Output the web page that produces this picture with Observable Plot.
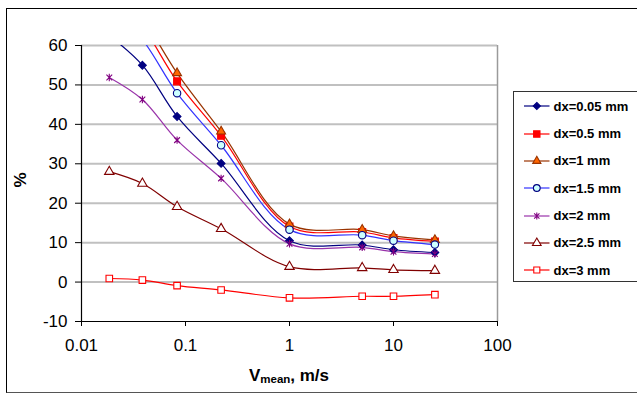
<!DOCTYPE html>
<html><head><meta charset="utf-8">
<script src="https://cdn.jsdelivr.net/npm/d3@7"></script>
<script src="https://cdn.jsdelivr.net/npm/@observablehq/plot@0.6"></script>
<style>
body{margin:0;background:#fff;font-family:"Liberation Sans",Arial,sans-serif;}
#wrap{position:relative;width:637px;height:395px;overflow:hidden;background:#fff;}
#chart{position:absolute;left:0;top:0;}
#frame{position:absolute;left:6px;top:8px;width:700px;height:385px;border:1.5px solid #000;border-bottom-color:#555;box-sizing:border-box;pointer-events:none;}
#legend{position:absolute;left:512.5px;top:91px;width:200px;height:191px;border:1px solid #333;box-sizing:border-box;background:#fff;}
.row{position:absolute;left:0;height:20px;display:flex;align-items:center;}
.row svg{display:block;}
.row span{font-weight:bold;font-size:13px;color:#000;margin-left:0px;white-space:nowrap;}
#xlabel{position:absolute;left:0;width:578px;top:366px;text-align:center;font-weight:bold;font-size:17px;}
#xlabel sub{font-size:11.5px;vertical-align:-2px;}
#ylabel{position:absolute;left:21px;top:180px;transform:translate(-50%,-50%) rotate(-90deg);font-weight:bold;font-size:17px;}
</style></head>
<body>
<div id="wrap">
  <div id="chart"></div>
  <div id="frame"></div>
  <div id="legend"></div>
  <div id="xlabel">V<sub>mean</sub>, m/s</div>
  <div id="ylabel">%</div>
</div>
<script>
// ---- data ----
const speeds = [0.0185, 0.0385, 0.083, 0.22, 1, 5, 10, 25];
const seriesNames = ["dx=0.05 mm", "dx=0.5 mm", "dx=1 mm", "dx=1.5 mm", "dx=2 mm", "dx=2.5 mm", "dx=3 mm"];
const dx005 = [62.5, 55.0, 42.0, 30.1, 10.5, 9.4, 8.2, 7.5];
const dx05  = [75.0, 65.0, 50.9, 37.1, 14.1, 12.7, 11.2, 10.3];
const dx1   = [77.0, 67.0, 53.0, 38.2, 14.7, 13.3, 11.7, 10.7];
const dx15  = [70.0, 61.5, 47.9, 34.7, 13.3, 11.9, 10.5, 9.5];
const dx2   = [51.9, 46.3, 36.0, 26.3, 9.7, 8.8, 7.7, 7.1];
const dx25  = [28.0, 25.0, 19.1, 13.5, 3.9, 3.6, 3.1, 2.9];
const dx3   = [0.9, 0.5, -0.9, -2.0, -4.0, -3.6, -3.6, -3.2];
const seriesValues = [dx005, dx05, dx1, dx15, dx2, dx25, dx3];
const xTicks = [0.01, 0.1, 1, 10, 100];
const xTickLabels = ["0.01", "0.1", "1", "10", "100"];
const yTicks = [-10, 0, 10, 20, 30, 40, 50, 60];
const yTickLabels = ["-10", "0", "10", "20", "30", "40", "50", "60"];

// ---- styles ----
const starSymbol = {
  draw(ctx, size) {
    const r = Math.sqrt(size) / 2.4;
    ctx.moveTo(-r, -r); ctx.lineTo(r, r);
    ctx.moveTo(-r, r); ctx.lineTo(r, -r);
    ctx.moveTo(0, -r * 1.3); ctx.lineTo(0, r * 1.3);
  }
};
const styles = [
  {line: "#000080", symbol: "diamond2", fill: "#000080", stroke: "#000080", r: 3.5},
  {line: "#ff0000", symbol: "square", fill: "#ff0000", stroke: "#ff0000", r: 3.9},
  {line: "#993300", symbol: "triangle", fill: "#ff6600", stroke: "#993300", r: 3.3},
  {line: "#3333ff", symbol: "circle", fill: "#ccffff", stroke: "#000080", r: 3.7},
  {line: "#9933aa", symbol: starSymbol, fill: "none", stroke: "#800080", r: 3.9},
  {line: "#800000", symbol: "triangle", fill: "#ffffff", stroke: "#800000", r: 3.5},
  {line: "#ff0000", symbol: "square", fill: "#ffffff", stroke: "#ff0000", r: 3.7}
];

const rows = [];
seriesNames.forEach((name, i) => speeds.forEach((v, j) => rows.push({series: name, idx: i, v, y: seriesValues[i][j]})));

const marks = [
  Plot.ruleY(yTicks.filter(d => d > -10), {stroke: "#c0c0c0", strokeWidth: 2}),
  Plot.ruleX([xTicks[xTicks.length - 1]], {stroke: "#9a9a9a", strokeWidth: 1.5}),
  Plot.ruleX([xTicks[0]], {stroke: "#000", strokeWidth: 1.2}),
  Plot.ruleY([yTicks[0]], {stroke: "#000", strokeWidth: 1.2})
];
seriesNames.forEach((name, i) => {
  const data = rows.filter(d => d.idx === i);
  const s = styles[i];
  marks.push(Plot.line(data, {x: "v", y: "y", stroke: s.line, strokeWidth: 1.2, curve: "catmull-rom", clip: true}));
});
seriesNames.forEach((name, i) => {
  const data = rows.filter(d => d.idx === i);
  const s = styles[i];
  marks.push(Plot.dot(data, {x: "v", y: "y", symbol: s.symbol, fill: s.fill, stroke: s.stroke, strokeWidth: 1.1, r: s.r, clip: true}));
});

const chart = Plot.plot({
  width: 637,
  height: 395,
  marginLeft: 81,
  marginRight: 140,
  marginTop: 45,
  marginBottom: 74,
  style: {fontFamily: "'Liberation Sans', Arial, sans-serif", fontSize: "17px", background: "transparent", color: "#000"},
  x: {type: "log", domain: [xTicks[0], xTicks[xTicks.length - 1]], ticks: xTicks, tickFormat: d => xTickLabels[xTicks.indexOf(d)], tickSize: 5, tickPadding: 12, label: null},
  y: {domain: [yTicks[0], yTicks[yTicks.length - 1]], ticks: yTicks, tickFormat: d => yTickLabels[yTicks.indexOf(d)], tickSize: 6, tickPadding: 8, label: null},
  marks
});
document.getElementById("chart").appendChild(chart);

// ---- legend ----
const legend = document.getElementById("legend");
seriesNames.forEach((name, i) => {
  const s = styles[i];
  const row = document.createElement("div");
  row.className = "row";
  row.style.top = (14.3 + i * 27.3 - 10) + "px";
  const svg = d3.create("svg").attr("width", 40).attr("height", 20);
  svg.append("line").attr("x1", 10).attr("x2", 35.5).attr("y1", 10).attr("y2", 10).attr("stroke", s.line).attr("stroke-width", 1.2);
  const symMap = {diamond2: d3.symbolDiamond2, square: d3.symbolSquare, triangle: d3.symbolTriangle, circle: d3.symbolCircle};
  const sym = typeof s.symbol === "string" ? symMap[s.symbol] : s.symbol;
  svg.append("path").attr("transform", "translate(22.8,10)")
    .attr("d", d3.symbol(sym, Math.PI * s.r * s.r * 0.85)())
    .attr("fill", s.fill).attr("stroke", s.stroke).attr("stroke-width", 1.1);
  row.appendChild(svg.node());
  const span = document.createElement("span");
  span.textContent = name;
  row.appendChild(span);
  legend.appendChild(row);
});
</script>
</body></html>
